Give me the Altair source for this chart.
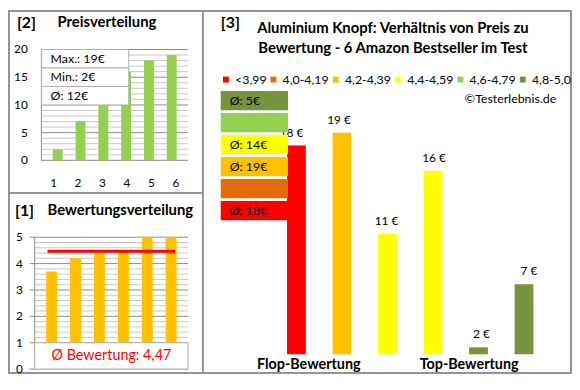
import altair as alt
import pandas as pd

# ---------------- data ----------------
price_rank = [1, 2, 3, 4, 5, 6]
price_sorted = [2, 7, 10, 16, 18, 19]
price_info = ["Max.: 19€", "Min.: 2€", "Ø: 12€"]
price_ticks = [0, 5, 10, 15, 20]

rating_rank = [1, 2, 3, 4, 5, 6]
ratings = [3.7, 4.2, 4.4, 4.5, 5.0, 5.0]
rating_avg = 4.47
rating_avg_label = "Ø Bewertung: 4,47"
rating_ticks = [0, 1, 2, 3, 4, 5]

prod_idx = [1, 2, 3, 4, 5, 6]
prod_price = [18, 19, 11, 16, 2, 7]
prod_price_label = ["18 €", "19 €", "11 €", "16 €", "2 €", "7 €"]
prod_cat = ["<3,99", "4,2-4,39", "4,4-4,59", "4,4-4,59", "4,8-5,0", "4,8-5,0"]

legend_cats = ["<3,99", "4,0-4,19", "4,2-4,39", "4,4-4,59", "4,6-4,79", "4,8-5,0"]
legend_colors = ["#FF0000", "#E46C0A", "#FFC000", "#FFFF00", "#92D050", "#77933C"]
cat_avg_label = ["Ø: 18€", "", "Ø: 19€", "Ø: 14€", "", "Ø: 5€"]

title_left_top = "Preisverteilung"
title_left_bottom = "Bewertungsverteilung"
title_right_1 = "Aluminium Knopf: Verhältnis von Preis zu"
title_right_2 = "Bewertung - 6 Amazon Bestseller im Test"
group_labels = ["Flop-Bewertung", "Top-Bewertung"]
copyright_text = "©Testerlebnis.de"

# ---------------- helpers ----------------
F = "Lato"
O = 8  # page margin


def px(v):
    return v - O


one = pd.DataFrame({"a": [0]})
FRAME = "#939393"
MINOR = "#c8c8c8"
MAJOR = "#8c8c8c"


def txt(text, x, y, size=12, bold=False, align="left", color="black"):
    return alt.Chart(one).mark_text(
        text=text, font=F, fontSize=size, fontWeight="bold" if bold else "normal",
        align=align, baseline="middle", color=color
    ).encode(x=alt.value(px(x)), y=alt.value(px(y)))


def hline(x1, x2, y, color=FRAME, w=2):
    return alt.Chart(one).mark_rule(color=color, strokeWidth=w).encode(
        x=alt.value(x1), x2=alt.value(x2), y=alt.value(y))


def vline(x, y1, y2, color=FRAME, w=2):
    return alt.Chart(one).mark_rule(color=color, strokeWidth=w).encode(
        x=alt.value(x), y=alt.value(y1), y2=alt.value(y2))


layers = []

# ---------------- frame ----------------
W, H = 570, 368
layers += [
    hline(0, W, 1), hline(0, W, H - 1), vline(1, 0, H), vline(W - 1, 0, H),
    vline(px(205), 0, H), hline(0, px(205), px(193)),
]

# ---------------- panel [2] Preisverteilung ----------------
xs2 = alt.Scale(domain=[0.5, 6.5], range=[px(41.7), px(190)], nice=False, zero=False)
ys2 = alt.Scale(domain=[0, 20], range=[px(160), px(48)], nice=False, zero=False)

g2 = pd.DataFrame({"v": list(range(21))})
for sub, col in [(g2[g2.v % 5 != 0], MINOR), (g2[g2.v % 5 == 0], MAJOR)]:
    layers.append(alt.Chart(sub).mark_rule(color=col, strokeWidth=1).encode(
        y=alt.Y("v:Q", scale=ys2, axis=None),
        x=alt.XDatum(0.5, type="quantitative", scale=xs2, axis=None),
        x2=alt.X2Datum(6.5)))
layers.append(alt.Chart(one).mark_rule(color=MAJOR, strokeWidth=1).encode(
    x=alt.XDatum(0.5, type="quantitative", scale=xs2, axis=None),
    y=alt.YDatum(0, type="quantitative", scale=ys2, axis=None),
    y2=alt.Y2Datum(20)))
layers.append(alt.Chart(pd.DataFrame({"r": price_rank, "p": price_sorted})).mark_bar(
    size=10, color="#92D050").encode(
    x=alt.X("r:Q", scale=xs2, axis=None), y=alt.Y("p:Q", scale=ys2, axis=None)))
layers.append(alt.Chart(pd.DataFrame({"v": price_ticks})).mark_text(
    font=F, fontSize=12, align="right", baseline="middle").encode(
    y=alt.Y("v:Q", scale=ys2, axis=None), x=alt.value(px(28)), text="v:Q"))
layers.append(alt.Chart(pd.DataFrame({"r": price_rank})).mark_text(
    font=F, fontSize=12, align="center", baseline="middle").encode(
    x=alt.X("r:Q", scale=xs2, axis=None), y=alt.value(px(183)), text="r:Q"))

ib = alt.Scale(type="band", domain=price_info, range=[px(48), px(104)], paddingInner=0, paddingOuter=0)
info = pd.DataFrame({"t": price_info})
layers.append(alt.Chart(info).mark_rect(fill="white", stroke="#b0b0b0", strokeWidth=1).encode(
    y=alt.Y("t:N", scale=ib, axis=None), x=alt.value(px(42)), x2=alt.value(px(130))))
layers.append(alt.Chart(info).mark_text(font=F, fontSize=12.5, align="left", baseline="middle").encode(
    y=alt.Y("t:N", scale=ib, axis=None), x=alt.value(px(51)), text="t:N"))

layers.append(txt("[2]", 17, 21, size=16, bold=True))
layers.append(txt(title_left_top, 58, 20, size=15, bold=True))

# ---------------- panel [1] Bewertungsverteilung ----------------
xs1 = alt.Scale(domain=[0.5, 6.5], range=[px(35), px(190)], nice=False, zero=False)
ys1 = alt.Scale(domain=[0, 5], range=[px(371), px(237.7)], nice=False, zero=False)

g1 = pd.DataFrame({"v": [i / 5 for i in range(26)]})
g1["maj"] = (g1.v * 5).round().astype(int) % 5 == 0
for sub, col in [(g1[~g1.maj], MINOR), (g1[g1.maj], MAJOR)]:
    layers.append(alt.Chart(sub).mark_rule(color=col, strokeWidth=1).encode(
        y=alt.Y("v:Q", scale=ys1, axis=None),
        x=alt.XDatum(0.5, type="quantitative", scale=xs1, axis=None),
        x2=alt.X2Datum(6.5)))
layers.append(alt.Chart(pd.DataFrame({"v": rating_ticks})).mark_rule(color=MAJOR, strokeWidth=1).encode(
    y=alt.Y("v:Q", scale=ys1, axis=None), x=alt.value(px(30)), x2=alt.value(px(35))))
layers.append(alt.Chart(one).mark_rule(color=MAJOR, strokeWidth=1).encode(
    x=alt.XDatum(0.5, type="quantitative", scale=xs1, axis=None),
    y=alt.YDatum(0, type="quantitative", scale=ys1, axis=None),
    y2=alt.Y2Datum(5)))
layers.append(alt.Chart(pd.DataFrame({"r": rating_rank, "s": ratings})).mark_bar(
    size=11, color="#FFC000").encode(
    x=alt.X("r:Q", scale=xs1, axis=None), y=alt.Y("s:Q", scale=ys1, axis=None)))
layers.append(alt.Chart(one).mark_rule(color="#FF0000", strokeWidth=3).encode(
    x=alt.XDatum(1, type="quantitative", scale=xs1, axis=None), x2=alt.X2Datum(6),
    y=alt.YDatum(rating_avg, type="quantitative", scale=ys1, axis=None)))
layers.append(alt.Chart(one).mark_rect(fill="white", stroke="#b0b0b0", strokeWidth=1).encode(
    x=alt.XDatum(0.5, type="quantitative", scale=xs1, axis=None), x2=alt.X2Datum(6.5),
    y=alt.YDatum(0, type="quantitative", scale=ys1, axis=None), y2=alt.Y2Datum(1)))
layers.append(alt.Chart(one).mark_text(text=rating_avg_label, font=F, fontSize=14.5, color="#FF0000",
                                       align="center", baseline="middle").encode(
    x=alt.XDatum(3.5, type="quantitative", scale=xs1, axis=None),
    y=alt.YDatum(0.48, type="quantitative", scale=ys1, axis=None)))
layers.append(alt.Chart(pd.DataFrame({"v": rating_ticks})).mark_text(
    font=F, fontSize=12, align="right", baseline="middle").encode(
    y=alt.Y("v:Q", scale=ys1, axis=None), x=alt.value(px(23)), text="v:Q"))

layers.append(txt("[1]", 15, 211, size=16, bold=True))
layers.append(txt(title_left_bottom, 48, 210, size=15, bold=True))

# ---------------- panel [3] ----------------
xs3 = alt.Scale(domain=[1, 6], range=[px(294.5), px(534.5)], nice=False, zero=False)
ys3 = alt.Scale(domain=[1.45, 20], range=[px(356), px(356 - 18.55 * 12.75)], nice=False, zero=False)

prod = pd.DataFrame({"i": prod_idx, "p": prod_price, "lab": prod_price_label, "cat": prod_cat})
layers.append(alt.Chart(prod).mark_bar(size=19).encode(
    x=alt.X("i:Q", scale=xs3, axis=None),
    y=alt.Y("p:Q", scale=ys3, axis=None),
    y2=alt.Y2Datum(1.45),
    color=alt.Color("cat:N", scale=alt.Scale(domain=legend_cats, range=legend_colors),
                    legend=alt.Legend(orient="none", legendX=px(222), legendY=px(72),
                                      direction="horizontal", title=None, symbolType="square",
                                      symbolSize=36, symbolStrokeWidth=0, symbolOpacity=1,
                                      labelFont=F, labelFontSize=12.5, labelOffset=3,
                                      columnPadding=0, padding=0, labelColor="black"))))
layers.append(alt.Chart(prod).mark_text(font=F, fontSize=12, dy=-13, baseline="middle").encode(
    x=alt.X("i:Q", scale=xs3, axis=None), y=alt.Y("p:Q", scale=ys3, axis=None), text="lab:N"))

box_order = list(reversed(legend_cats))
bs = alt.Scale(type="band", domain=box_order, range=[px(88.65), px(221.85)],
               paddingInner=0.1216, paddingOuter=0.0608)
boxes = pd.DataFrame({"cat": legend_cats, "col": legend_colors, "lab": cat_avg_label})
layers.append(alt.Chart(boxes).mark_rect().encode(
    y=alt.Y("cat:N", scale=bs, axis=None), x=alt.value(px(223)), x2=alt.value(px(291)),
    color=alt.Color("col:N", scale=None)))
layers.append(alt.Chart(boxes).mark_text(font=F, fontSize=12.5, align="left", baseline="middle").encode(
    y=alt.Y("cat:N", scale=bs, axis=None), x=alt.value(px(232)), text="lab:N"))

layers.append(txt("[3]", 223, 21, size=16, bold=True))
layers.append(txt(title_right_1, 397, 26, size=15, bold=True, align="center"))
layers.append(txt(title_right_2, 397, 47, size=15, bold=True, align="center"))
layers.append(txt(copyright_text, 562, 98, size=12.5, align="right"))
layers.append(txt(group_labels[0], 312, 367, size=14.5, bold=True, align="center"))
layers.append(txt(group_labels[1], 474, 367, size=14.5, bold=True, align="center"))

chart = alt.layer(*layers).resolve_scale(
    x="independent", y="independent", color="independent"
).properties(
    width=W, height=H, padding=0, autosize=alt.AutoSizeParams(type="none")
).configure_view(stroke=None)

chart.save("out.html", embed_options={"renderer": "svg", "actions": False})
